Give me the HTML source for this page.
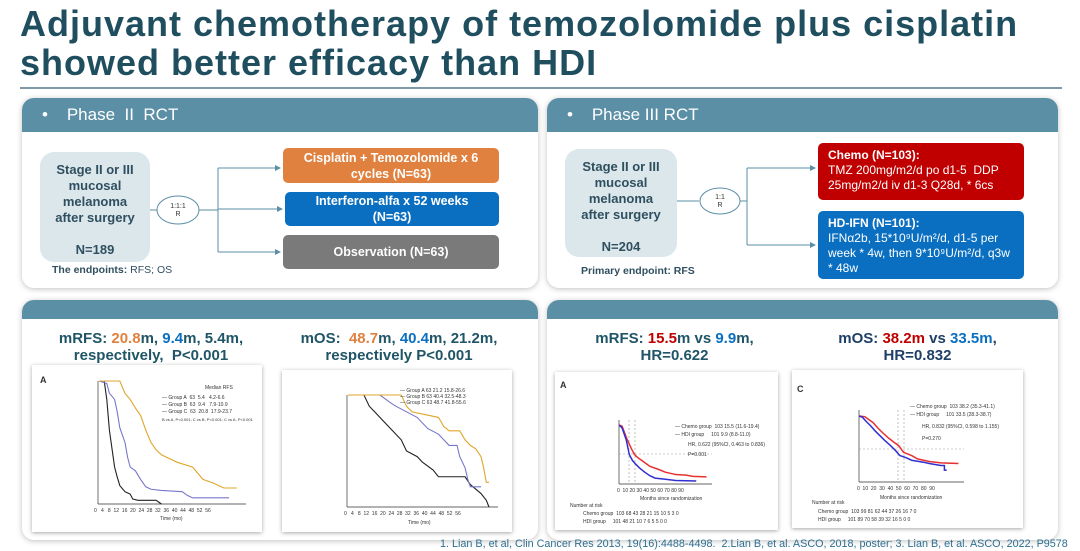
<!DOCTYPE html>
<html><head><meta charset="utf-8"><style>
*{margin:0;padding:0;box-sizing:border-box}
body{width:1080px;height:551px;background:#fff;position:relative;overflow:hidden;font-family:"Liberation Sans","DejaVu Sans",sans-serif}
.a{position:absolute}
.t{left:20px;top:4px;font-size:36px;letter-spacing:1px;font-weight:bold;color:#1f4e5f;line-height:39px}
.panel{background:#fff;border-radius:12px;box-shadow:0 1px 6px rgba(0,0,0,.25)}
.hd{background:#5b8fa6;border-radius:12px 12px 0 0;color:#fff;font-size:17px;padding-left:20px;line-height:34px}
.box{border-radius:5px;color:#fff;font-weight:bold;font-size:12.5px;text-align:center;display:flex;align-items:center;justify-content:center;line-height:16px}
.stage{background:#dce7ec;border-radius:14px;color:#2f4f5f;font-weight:bold;font-size:13px;text-align:center;line-height:16px;padding-top:10px}
.big{font-size:15px;font-weight:bold;color:#1f5566;text-align:center;line-height:17px}
.ch{background:#fff;box-shadow:0 1px 4px rgba(0,0,0,.35)}
</style></head><body>
<div class="a t">Adjuvant chemotherapy of temozolomide plus cisplatin<br>showed better efficacy than HDI</div>
<div class="a" style="left:20px;top:87px;width:1042px;height:2px;background:#7f9aa6"></div>

<div class="a panel" style="left:22px;top:98px;width:516px;height:190px"><div class="hd">•&nbsp;&nbsp;&nbsp; Phase&nbsp; II&nbsp; RCT</div></div>
<div class="a panel" style="left:547px;top:98px;width:511px;height:190px"><div class="hd">•&nbsp;&nbsp;&nbsp; Phase III RCT</div></div>
<div class="a panel" style="left:22px;top:300px;width:516px;height:240px"><div class="hd" style="height:19px"></div></div>
<div class="a panel" style="left:547px;top:300px;width:511px;height:240px"><div class="hd" style="height:19px"></div></div>

<div class="a stage" style="left:40px;top:152px;width:110px;height:110px">Stage II or III<br>mucosal<br>melanoma<br>after surgery<br><br>N=189</div>
<div class="a" style="left:52px;top:264px;font-size:10.5px;color:#2f4f5f"><b>The endpoints:</b> RFS; OS</div>
<div class="a box" style="left:283px;top:148px;width:216px;height:35px;background:#e0813f">Cisplatin + Temozolomide x 6<br>cycles (N=63)</div>
<div class="a box" style="left:285px;top:192px;width:214px;height:34px;background:#0a6fc0">Interferon-alfa x 52 weeks<br>(N=63)</div>
<div class="a box" style="left:283px;top:235px;width:216px;height:34px;background:#7a7a7a">Observation (N=63)</div>

<div class="a stage" style="left:565px;top:149px;width:112px;height:108px;padding-top:10px">Stage II or III<br>mucosal<br>melanoma<br>after surgery<br><br>N=204</div>
<div class="a" style="left:581px;top:265px;font-size:10.5px;color:#2f4f5f;font-weight:bold">Primary endpoint: RFS</div>
<div class="a" style="left:818px;top:143px;width:206px;height:57px;background:#c00000;border-radius:5px;color:#fff;font-size:12px;line-height:15px;padding:5px 10px"><b>Chemo (N=103):</b><br>TMZ 200mg/m2/d po d1-5&nbsp; DDP 25mg/m2/d iv d1-3 Q28d, * 6cs</div>
<div class="a" style="left:818px;top:211px;width:206px;height:68px;background:#0a6fc0;border-radius:5px;color:#fff;font-size:12px;line-height:15px;padding:5px 10px"><b>HD-IFN (N=101):</b><br>IFNα2b, 15*10⁹U/m²/d, d1-5 per week * 4w, then 9*10⁹U/m²/d, q3w * 48w</div>

<svg class="a" style="left:0;top:0" width="1080" height="551">
<defs><marker id="ar" markerWidth="6" markerHeight="6" refX="5" refY="3" orient="auto"><path d="M0,0L6,3L0,6z" fill="#5b8fa6"/></marker></defs>
<g stroke="#5b8fa6" stroke-width="1" fill="none">
<line x1="150" y1="210" x2="157" y2="210"/><ellipse cx="178" cy="210" rx="21" ry="14" fill="#fff"/>
<line x1="199" y1="210" x2="218" y2="210"/><line x1="218" y1="168" x2="218" y2="252"/>
<line x1="218" y1="168" x2="280" y2="168" marker-end="url(#ar)"/><line x1="218" y1="209" x2="282" y2="209" marker-end="url(#ar)"/><line x1="218" y1="252" x2="280" y2="252" marker-end="url(#ar)"/>
<line x1="677" y1="201" x2="699" y2="201"/><ellipse cx="720" cy="201" rx="20" ry="13" fill="#fff"/>
<line x1="740" y1="201" x2="747" y2="201"/><line x1="747" y1="168" x2="747" y2="245"/>
<line x1="747" y1="168" x2="815" y2="168" marker-end="url(#ar)"/><line x1="747" y1="245" x2="815" y2="245" marker-end="url(#ar)"/>
</g>
<text x="178" y="208" font-size="7" text-anchor="middle" fill="#333">1:1:1</text><text x="178" y="216" font-size="7" text-anchor="middle" fill="#333">R</text>
<text x="720" y="199" font-size="7" text-anchor="middle" fill="#333">1:1</text><text x="720" y="207" font-size="7" text-anchor="middle" fill="#333">R</text>
</svg>

<div class="a big" style="left:22px;top:330px;width:258px">mRFS: <span style="color:#e0813f">20.8</span>m, <span style="color:#0a6fc0">9.4</span>m, 5.4m,<br>respectively,&nbsp; P&lt;0.001</div>
<div class="a big" style="left:270px;top:330px;width:258px">mOS:&nbsp; <span style="color:#e0813f">48.7</span>m, <span style="color:#0a6fc0">40.4</span>m, 21.2m,<br>respectively P&lt;0.001</div>
<div class="a big" style="left:547px;top:330px;width:255px">mRFS: <span style="color:#c00000">15.5</span>m vs <span style="color:#0a6fc0">9.9</span>m,<br>HR=0.622</div>
<div class="a big" style="left:790px;top:330px;width:255px;color:#1f3f66">mOS: <span style="color:#c00000">38.2m</span> vs <span style="color:#0a6fc0">33.5m</span>,<br>HR=0.832</div>

<div class="a ch" style="left:32px;top:365px;width:230px;height:167px"></div>
<div class="a ch" style="left:282px;top:370px;width:230px;height:162px"></div>
<div class="a ch" style="left:555px;top:372px;width:223px;height:158px"></div>
<div class="a ch" style="left:792px;top:370px;width:231px;height:158px"></div>

<svg class="a" style="left:0;top:0" width="1080" height="551" font-family="Liberation Sans,sans-serif">
<g fill="none" stroke-width="1.1">
<g stroke="#333" stroke-width=".7"><line x1="98" y1="381" x2="98" y2="504"/><line x1="98" y1="504" x2="246" y2="504"/></g>
<g transform="translate(99,504) scale(2.6,-123)">
<polyline vector-effect="non-scaling-stroke" stroke="#222" points="0,1 2,1 3,.85 4,.6 5,.45 6,.3 7,.22 8,.15 10,.1 12,.08 13,.04 15,.03 22,.03 24,0"/>
<polyline vector-effect="non-scaling-stroke" stroke="#7777cc" points="0,1 3,.98 4,.9 6,.85 7,.75 8,.62 10,.5 11,.38 12,.3 14,.27 16,.2 18,.14 20,.12 24,.11 32,.1 34,.07 36,.05 50,.05"/>
<polyline vector-effect="non-scaling-stroke" stroke="#e0a52a" points="0,1 8,1 10,.9 12,.85 14,.78 16,.72 18,.6 20,.5 22,.44 24,.4 27,.37 30,.34 36,.3 38,.25 40,.2 44,.17 48,.13 53,.13"/>
</g>
<g stroke="#333" stroke-width=".7"><line x1="347" y1="395" x2="347" y2="507"/><line x1="347" y1="507" x2="498" y2="507"/></g>
<g transform="translate(348,507) scale(2.66,-112)">
<polyline vector-effect="non-scaling-stroke" stroke="#222" points="0,1 6,1 8,.9 10,.85 12,.8 16,.7 20,.6 22,.5 26,.45 28,.4 32,.33 34,.27 44,.27 46,.2 50,.12 52,.06 53,0"/>
<polyline vector-effect="non-scaling-stroke" stroke="#7777cc" points="0,1 12,1 16,.93 18,.9 22,.85 26,.8 30,.7 34,.65 36,.6 38,.55 41,.55 42,.45 44,.35 45,.25 46,.18 50,.18"/>
<polyline vector-effect="non-scaling-stroke" stroke="#e0a52a" points="0,1 20,1 22,.9 24,.85 28,.83 34,.8 36,.72 38,.68 42,.68 44,.6 46,.55 48,.52 50,.45 51,.35 52,.22 53,.22"/>
</g>
<g stroke="#333" stroke-width=".7"><line x1="619" y1="420" x2="619" y2="484"/><line x1="619" y1="484" x2="712" y2="484"/></g>
<g stroke="#999" stroke-dasharray="2,2" stroke-width=".6"><line x1="619" y1="454" x2="712" y2="454"/><line x1="629" y1="420" x2="629" y2="484"/><line x1="635" y1="420" x2="635" y2="484"/></g>
<g transform="translate(619,484) scale(1.03,-.59)">
<polyline vector-effect="non-scaling-stroke" stroke="#e83030" stroke-width="1.5" points="0,100 3,98 8,75 12,60 15,50 18,45 22,40 26,35 30,30 38,25 45,20 55,16 65,15 72,13 85,12"/>
<polyline vector-effect="non-scaling-stroke" stroke="#3030d0" stroke-width="1.5" points="0,100 3,95 7,75 10,50 13,40 16,34 20,27 25,20 30,14 35,10 45,8 55,6 75,5"/>
</g>
<g stroke="#333" stroke-width=".7"><line x1="859" y1="410" x2="859" y2="482"/><line x1="859" y1="482" x2="964" y2="482"/></g>
<g stroke="#999" stroke-dasharray="2,2" stroke-width=".6"><line x1="859" y1="449" x2="964" y2="449"/><line x1="898" y1="410" x2="898" y2="482"/><line x1="904" y1="410" x2="904" y2="482"/></g>
<g transform="translate(859,482) scale(1.17,-.66)">
<polyline vector-effect="non-scaling-stroke" stroke="#e83030" stroke-width="1.5" points="0,100 5,99 8,95 12,90 16,82 20,75 25,67 30,60 34,55 38,45 45,40 50,35 60,31 70,29 85,28"/>
<polyline vector-effect="non-scaling-stroke" stroke="#3030d0" stroke-width="1.5" points="0,100 3,98 6,92 10,85 14,77 18,70 22,63 27,55 31,48 35,40 40,37 45,33 55,30 60,28 70,25 73,25 73,18 75,18"/>
</g>
</g>
<g font-size="5" fill="#333">
<text x="40" y="383" font-size="9" font-weight="bold">A</text>
<text x="162" y="399">— Group A&#160;&#160;63&#160;&#160;5.4&#160;&#160;&#160;4.2-6.6</text>
<text x="162" y="406">— Group B&#160;&#160;63&#160;&#160;9.4&#160;&#160;&#160;7.9-10.9</text>
<text x="162" y="413">— Group C&#160;&#160;63&#160;&#160;20.8&#160;&#160;17.9-23.7</text>
<text x="162" y="421" font-size="4">B vs A, P&lt;0.001; C vs B, P&lt;0.001; C vs A, P&lt;0.001</text>
<text x="205" y="389">Median RFS</text>
<text x="94" y="512">0&#160;&#160;&#160;4&#160;&#160;&#160;8&#160;&#160;12&#160;&#160;16&#160;&#160;20&#160;&#160;24&#160;&#160;28&#160;&#160;32&#160;&#160;36&#160;&#160;40&#160;&#160;44&#160;&#160;48&#160;&#160;52&#160;&#160;56</text>
<text x="160" y="520">Time (mo)</text>
<text x="400" y="392">— Group A 63 21.2 15.8-26.6</text>
<text x="400" y="398">— Group B 63 40.4 32.5-48.3</text>
<text x="400" y="404">— Group C 63 48.7 41.8-55.6</text>
<text x="344" y="515">0&#160;&#160;&#160;4&#160;&#160;&#160;8&#160;&#160;12&#160;&#160;16&#160;&#160;20&#160;&#160;24&#160;&#160;28&#160;&#160;32&#160;&#160;36&#160;&#160;40&#160;&#160;44&#160;&#160;48&#160;&#160;52&#160;&#160;56</text>
<text x="408" y="524">Time (mo)</text>
<text x="560" y="388" font-size="9" font-weight="bold">A</text>
<text x="675" y="428">— Chemo group&#160;&#160;103&#160;15.5 (11.6-19.4)</text>
<text x="675" y="436">— HDI group&#160;&#160;&#160;&#160;&#160;101&#160;9.9 (8.8-11.0)</text>
<text x="688" y="446">HR, 0.622 (95%CI, 0.463 to 0.836)</text>
<text x="688" y="456">P=0.001</text>
<text x="617" y="492">0&#160;&#160;10&#160;20&#160;30&#160;40&#160;50&#160;60&#160;70&#160;80&#160;90</text>
<text x="640" y="500">Months since randomization</text>
<text x="570" y="507">Number at risk</text>
<text x="583" y="515">Chemo group&#160;&#160;103 68 43 28 21 15 10 5 3 0</text>
<text x="583" y="523">HDI group&#160;&#160;&#160;&#160;&#160;101 48 21 10 7 6 5 5 0 0</text>
<text x="797" y="392" font-size="9" font-weight="bold">C</text>
<text x="910" y="408">— Chemo group&#160;&#160;103&#160;38.2 (35.3-41.1)</text>
<text x="910" y="416">— HDI group&#160;&#160;&#160;&#160;&#160;101&#160;33.5 (28.3-38.7)</text>
<text x="922" y="428">HR, 0.832 (95%CI, 0.598 to 1.155)</text>
<text x="922" y="440">P=0.270</text>
<text x="857" y="490">0&#160;&#160;10&#160;&#160;20&#160;&#160;30&#160;&#160;40&#160;&#160;50&#160;&#160;60&#160;&#160;70&#160;&#160;80&#160;&#160;90</text>
<text x="880" y="499">Months since randomization</text>
<text x="812" y="504">Number at risk</text>
<text x="818" y="513">Chemo group&#160;&#160;103 99 81 62 44 37 26 16 7 0</text>
<text x="818" y="521">HDI group&#160;&#160;&#160;&#160;&#160;101 89 70 58 39 32 16 5 0 0</text>
</g>
</svg>
<div class="a" style="left:440px;top:538px;font-size:10.8px;color:#2f6f8f;white-space:nowrap">1. Lian B, et al, Clin Cancer Res 2013, 19(16):4488-4498.&nbsp; 2.Lian B, et al. ASCO, 2018, poster; 3. Lian B, et al. ASCO, 2022, P9578</div>
</body></html>
